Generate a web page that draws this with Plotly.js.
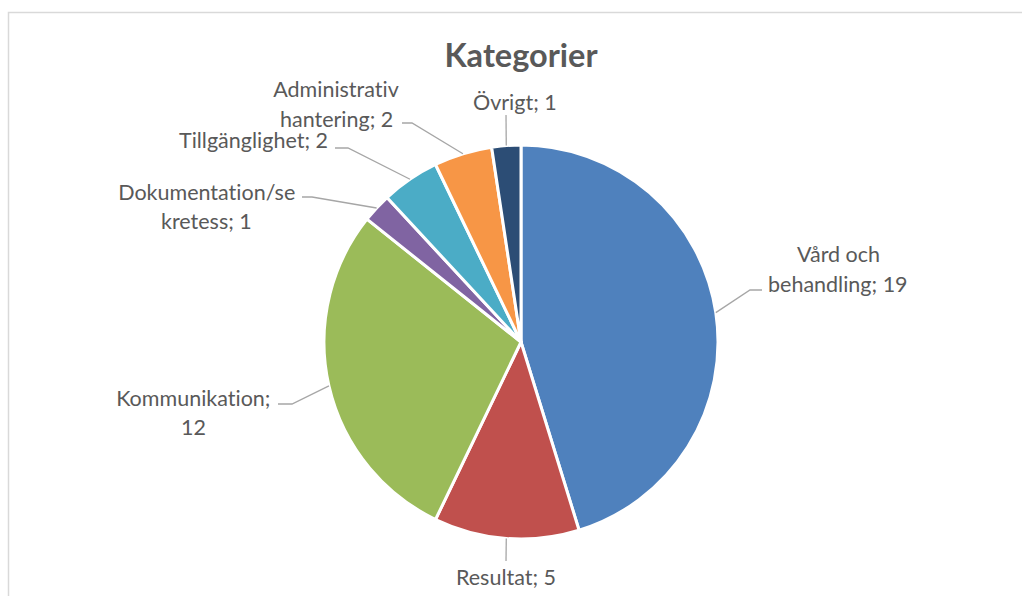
<!DOCTYPE html>
<html>
<head>
<meta charset="utf-8">
<script src="https://cdn.plot.ly/plotly-3.0.1.min.js"></script>
<style>
  html, body { margin: 0; padding: 0; background: #ffffff; }
  #chart { width: 1022px; height: 596px; }
  #chart svg text { font-variant-ligatures: none !important; font-feature-settings: "liga" 0, "clig" 0 !important; }
</style>
</head>
<body>
<div id="chart"></div>
<script>
// ---- data ----
const categories = ["Vård och behandling", "Resultat", "Kommunikation", "Dokumentation/sekretess", "Tillgänglighet", "Administrativ hantering", "Övrigt"];
const values = [19, 5, 12, 1, 2, 2, 1];
const colors = ["#4F81BD", "#C0504D", "#9BBB59", "#8064A2", "#4BACC6", "#F79646", "#2C4D75"];
const chartTitle = "Kategorier";

// ---- label layout (page pixels, 1022x596) ----
const W = 1022, H = 596;
const pieCX = 521, pieCY = 342, pieR = 197;
const labelBreak = ["Vård och ", "", "Kommunikation; ", "Dokumentation/se", "", "Administrativ ", ""];
const labelX = [838, 506, 193, 206, 253, 336, 515];
const labelY = [254, 577, 398, 192, 140, 89, 102];
const lineGap = 29.5;
const lineEndX = [762, 506, 278, 302, 335, 402, 506];
const lineEndY = [290, 561, 404, 197, 148, 123, 115];
const elbowDx = [-12, 0, 14, 10, 13, 10, 0];

const px = x => x / W;
const py = y => 1 - y / H;

const total = values.reduce((a, b) => a + b, 0);
const annotations = [];
const shapes = [];

// chart border
shapes.push({
  type: "rect", xref: "paper", yref: "paper",
  x0: px(8.5), x1: 1.05, y0: -0.05, y1: py(12.5),
  line: { color: "#D9D9D9", width: 1.5 }, fillcolor: "rgba(0,0,0,0)", layer: "below"
});

let cum = 0;
categories.forEach((cat, i) => {
  const mid = (cum + values[i] / 2) / total * 2 * Math.PI;
  cum += values[i];
  const ex = pieCX + pieR * Math.sin(mid);
  const ey = pieCY - pieR * Math.cos(mid);
  const elx = lineEndX[i] + elbowDx[i];
  const ely = lineEndY[i];
  shapes.push({
    type: "path", xref: "paper", yref: "paper",
    path: `M ${px(ex)} ${py(ey)} L ${px(elx)} ${py(ely)} L ${px(lineEndX[i])} ${py(lineEndY[i])}`,
    line: { color: "#A6A6A6", width: 1.3 }
  });
  const full = cat + "; " + values[i];
  let lines = [full];
  if (labelBreak[i] && full.startsWith(labelBreak[i])) {
    lines = [labelBreak[i].trim(), full.slice(labelBreak[i].length)];
  }
  lines.forEach((t, k) => {
    annotations.push({
      xref: "paper", yref: "paper",
      x: px(labelX[i]), y: py(labelY[i] + k * lineGap),
      xanchor: "center", yanchor: "middle",
      text: t, showarrow: false,
      font: { family: "Lato, 'Open Sans', sans-serif", size: 21.5, color: "#595959" }
    });
  });
});

const trace = {
  type: "pie",
  labels: categories,
  values: values,
  marker: { colors: colors, line: { color: "#ffffff", width: 3 } },
  sort: false,
  direction: "clockwise",
  rotation: 0,
  textinfo: "none",
  hoverinfo: "label+value",
  showlegend: false,
  domain: { x: [px(pieCX - pieR), px(pieCX + pieR)], y: [py(pieCY + pieR), py(pieCY - pieR)] }
};

const layout = {
  width: W, height: H,
  margin: { l: 0, r: 0, t: 0, b: 0 },
  paper_bgcolor: "#ffffff",
  title: {
    text: "<b>" + chartTitle + "</b>",
    font: { family: "Lato, 'Open Sans', sans-serif", size: 32.5, color: "#595959" },
    x: px(521), xanchor: "center",
    y: py(56), yanchor: "middle"
  },
  showlegend: false,
  annotations: annotations,
  shapes: shapes
};

Plotly.newPlot("chart", [trace], layout, { displayModeBar: false, staticPlot: true });
</script>
</body>
</html>
